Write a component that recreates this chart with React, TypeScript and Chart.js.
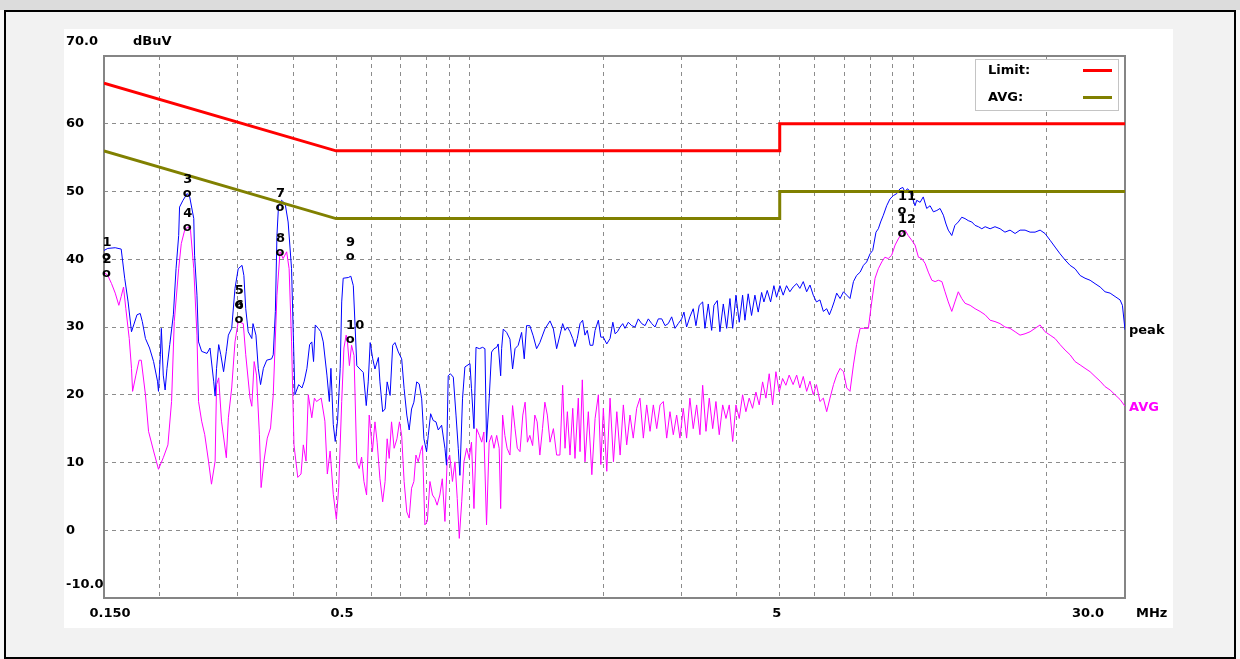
import { useEffect, useRef } from 'react';
import { Chart, registerables } from 'chart.js';

Chart.register(...registerables);

// ---------- data (MHz / dBuV) ----------
const peakFreq = [
  0.150, 0.153, 0.159, 0.164, 0.167, 0.170, 0.173, 0.175, 0.178, 0.181, 0.183, 0.186, 0.190, 0.194, 0.198, 0.199,
  0.201, 0.202, 0.204, 0.206, 0.208, 0.211, 0.215, 0.218, 0.221, 0.222, 0.226, 0.231, 0.234, 0.239, 0.240, 0.243,
  0.245, 0.249, 0.256, 0.260, 0.265, 0.267, 0.269, 0.272, 0.275, 0.279, 0.283, 0.286, 0.291, 0.296, 0.301, 0.307,
  0.310, 0.313, 0.317, 0.323, 0.325, 0.330, 0.334, 0.338, 0.343, 0.349, 0.358, 0.361, 0.365, 0.368, 0.371, 0.377,
  0.384, 0.390, 0.397, 0.401, 0.404, 0.412, 0.419, 0.424, 0.430, 0.436, 0.441, 0.445, 0.449, 0.456, 0.462, 0.468,
  0.477, 0.483, 0.487, 0.493, 0.498, 0.504, 0.511, 0.515, 0.519,
  0.533, 0.540, 0.547, 0.552, 0.557, 0.566, 0.576, 0.585, 0.591, 0.597, 0.605, 0.612, 0.623, 0.628, 0.637, 0.645,
  0.652, 0.662, 0.671, 0.679, 0.691, 0.703, 0.712, 0.722, 0.731, 0.740, 0.749, 0.760, 0.770, 0.780, 0.789, 0.800,
  0.807, 0.817, 0.828, 0.840, 0.850, 0.865, 0.880, 0.887, 0.895, 0.905, 0.919, 0.932, 0.943, 0.951, 0.964, 0.976,
  1.002, 1.010, 1.023, 1.034, 1.052, 1.070, 1.083, 1.092, 1.107, 1.121, 1.135, 1.151, 1.160, 1.175, 1.181, 1.191,
  1.212, 1.233, 1.250, 1.266, 1.287, 1.310, 1.328, 1.344, 1.367, 1.391, 1.416, 1.440, 1.478, 1.518, 1.545, 1.571,
  1.598, 1.621, 1.641, 1.661, 1.684, 1.708, 1.728, 1.749, 1.774, 1.798, 1.820, 1.842, 1.869, 1.896, 1.918, 1.951,
  1.976, 2.002, 2.038, 2.073, 2.103, 2.128, 2.154, 2.184, 2.214, 2.240, 2.279, 2.319, 2.360, 2.400, 2.443, 2.486,
  2.528, 2.574, 2.618, 2.663, 2.711, 2.757, 2.804, 2.854, 2.904, 2.953, 3.006, 3.042, 3.084, 3.137, 3.192, 3.237,
  3.293, 3.352, 3.392, 3.451, 3.512, 3.554, 3.616, 3.666, 3.731, 3.797, 3.862, 3.917, 3.984, 4.053, 4.124, 4.174,
  4.245, 4.320, 4.396, 4.472, 4.552, 4.606, 4.686, 4.769, 4.851, 4.919, 5.005, 5.091, 5.180,
  5.27, 5.36, 5.46, 5.55, 5.65, 5.75, 5.85, 5.95, 6.05, 6.16, 6.27, 6.38, 6.47, 6.55, 6.63, 6.72,
  6.84, 6.96, 7.08, 7.20, 7.33, 7.45, 7.59, 7.72, 7.85, 7.99, 8.10, 8.24, 8.34, 8.44, 8.56, 8.71,
  8.86, 9.02, 9.18, 9.33, 9.47, 9.58, 9.69, 9.83, 9.97, 10.09, 10.18, 10.36, 10.53, 10.72, 10.91, 11.10,
  11.30, 11.49, 11.69, 11.85, 11.99, 12.21, 12.41, 12.63, 12.86, 13.08, 13.30, 13.55, 13.78, 14.02, 14.27, 14.52,
  14.90, 15.28, 15.69, 16.09, 16.52, 16.96, 17.40, 17.86, 18.33, 18.81, 19.31, 19.81, 20.34, 20.87, 21.42, 21.98,
  22.56, 23.15, 23.77, 24.38, 25.03, 25.68, 26.37, 27.05, 27.77, 28.49, 29.24, 29.60, 30.0,
];
const peakLevel = [
  41.3, 41.6, 41.7, 41.5, 37.2, 33.7, 29.3, 30.3, 31.8, 32.0, 30.8, 28.3, 26.9, 24.9, 22.0, 20.5,
  25.9, 29.8, 22.9, 20.7, 23.9, 27.4, 31.8, 38.6, 43.5, 47.7, 48.7, 49.7, 49.2, 46.0, 40.6, 34.7,
  27.8, 26.4, 26.1, 26.9, 22.0, 19.8, 23.9, 27.4, 25.9, 23.4, 26.4, 28.8, 29.8, 35.7, 38.6, 39.1,
  37.6, 32.7, 29.3, 28.3, 30.5, 28.8, 23.9, 21.5, 23.9, 25.1, 25.3, 25.9, 32.3, 43.5, 47.9, 48.7,
  48.2, 45.5, 38.6, 27.8, 20.0, 21.5, 21.0, 22.0, 23.9, 27.4, 27.8, 24.9, 30.3, 29.8, 29.3, 27.8,
  22.9, 19.0, 23.9, 15.6, 13.1, 16.1, 23.9, 33.7, 37.2,
  37.3, 37.5, 36.1, 30.2, 24.3, 23.8, 23.3, 18.4, 21.9, 27.7, 25.3, 23.8, 25.5, 21.9, 17.5, 17.9,
  21.9, 19.9, 27.3, 27.7, 26.3, 25.3, 20.9, 17.0, 14.8, 17.9, 18.9, 21.9, 21.6, 19.4, 13.5, 11.6,
  14.0, 17.2, 16.2, 16.0, 14.8, 15.5, 12.1, 9.6, 22.8, 23.1, 22.6, 17.0, 12.1, 8.1, 19.4, 24.1,
  24.6, 20.9, 15.0, 27.0, 26.8, 27.0, 26.8, 13.0, 19.4, 26.3, 26.8, 27.0, 27.5, 22.8, 26.8, 29.7,
  29.2, 28.2, 23.8, 26.8, 27.3, 29.2, 25.3, 30.2, 30.2, 28.7, 26.8, 27.7, 29.7, 30.9, 29.7, 26.8,
  28.8, 30.5, 29.5, 30.0, 29.3, 28.3, 27.1, 28.3, 30.5, 31.0, 28.8, 29.5, 27.3, 27.3, 29.5, 31.0,
  28.5, 28.5, 27.5, 28.3, 30.7, 29.0, 29.3, 30.0, 30.5, 29.8, 30.7, 30.2, 30.0, 31.2, 30.5, 30.2,
  31.2, 30.5, 30.0, 31.2, 31.2, 30.2, 30.5, 31.5, 29.8, 30.5, 31.2, 32.2, 30.0, 31.5, 32.7, 30.2,
  33.2, 33.7, 29.8, 33.4, 29.5, 33.2, 33.9, 29.3, 33.4, 29.8, 34.2, 29.8, 34.7, 30.7, 34.7, 31.0,
  34.9, 31.7, 34.7, 32.2, 35.1, 33.7, 35.4, 33.7, 36.1, 34.4, 36.1, 34.7, 36.1,
  35.2, 35.9, 36.4, 35.7, 36.7, 35.2, 36.2, 34.7, 33.7, 34.0, 32.3, 32.7, 31.8, 32.7, 33.7, 35.0,
  34.2, 35.2, 34.7, 34.2, 36.7, 37.6, 38.1, 39.1, 39.6, 40.8, 41.3, 44.0, 44.5, 45.5, 46.5, 47.9,
  48.9, 49.4, 49.7, 50.4, 50.6, 49.9, 50.4, 50.1, 48.9, 47.9, 48.7, 48.4, 49.2, 47.5, 47.9, 47.0,
  47.2, 47.5, 46.5, 45.2, 44.3, 43.5, 45.0, 45.5, 46.2, 46.0, 45.7, 45.5, 45.0, 44.8, 44.5, 44.8,
  44.5, 44.8, 44.5, 44.0, 44.3, 43.8, 44.3, 44.3, 44.0, 44.0, 44.3, 43.8, 42.8, 41.8, 40.8, 39.9,
  39.1, 38.6, 37.6, 37.2, 36.9, 36.4, 35.9, 35.2, 35.0, 34.5, 34.0, 33.2, 29.6,
];

const avgFreq = [
  0.150, 0.153, 0.156, 0.159, 0.162, 0.164, 0.166, 0.168, 0.171, 0.173, 0.174, 0.177, 0.180, 0.182, 0.186, 0.189,
  0.194, 0.199, 0.204, 0.209, 0.213, 0.216, 0.221, 0.224, 0.228, 0.232, 0.235, 0.239, 0.243, 0.245, 0.249, 0.253,
  0.258, 0.262, 0.267, 0.269, 0.272, 0.276, 0.283, 0.286, 0.291, 0.296, 0.301, 0.309, 0.313, 0.320, 0.323, 0.327,
  0.331, 0.336, 0.339, 0.344, 0.350, 0.356, 0.361, 0.368, 0.374, 0.380, 0.387, 0.392, 0.397, 0.402, 0.410, 0.417,
  0.422, 0.428, 0.433, 0.441, 0.447, 0.452, 0.463, 0.472, 0.478, 0.485, 0.493, 0.501, 0.507, 0.515, 0.521, 0.527,
  0.530, 0.536, 0.542, 0.549, 0.557, 0.564, 0.571, 0.578, 0.586, 0.594, 0.598, 0.604, 0.612, 0.619, 0.628, 0.637,
  0.645, 0.652, 0.659, 0.667, 0.676, 0.686, 0.695, 0.703, 0.712, 0.722, 0.731, 0.740, 0.749, 0.757, 0.766, 0.775,
  0.783, 0.793, 0.803, 0.814, 0.825, 0.835, 0.845, 0.857, 0.868, 0.880, 0.890, 0.902, 0.915, 0.927, 0.938, 0.948,
  0.960, 0.971, 0.985, 0.998, 1.010, 1.023, 1.037, 1.052, 1.065, 1.077, 1.092, 1.107, 1.121, 1.135, 1.151, 1.166,
  1.175, 1.187, 1.201, 1.215, 1.233, 1.250, 1.266, 1.281, 1.299, 1.318, 1.334, 1.350, 1.367, 1.387, 1.403, 1.420,
  1.440, 1.460, 1.478, 1.497, 1.518, 1.545, 1.571,
  1.598, 1.621, 1.641, 1.661, 1.684, 1.708, 1.728, 1.758, 1.774, 1.795, 1.820, 1.852, 1.886, 1.918, 1.951, 1.976,
  2.002, 2.038, 2.073, 2.110, 2.147, 2.184, 2.221, 2.260, 2.299, 2.338, 2.380, 2.421, 2.464, 2.507, 2.551, 2.595,
  2.641, 2.687, 2.733, 2.781, 2.829, 2.878, 2.929, 2.979, 3.031, 3.084, 3.137, 3.192, 3.249, 3.305, 3.352, 3.410,
  3.469, 3.531, 3.591, 3.653, 3.719, 3.783, 3.848, 3.917, 3.984, 4.053, 4.124, 4.195, 4.267, 4.343, 4.419, 4.495,
  4.575, 4.654, 4.734, 4.819, 4.902, 4.987, 5.075, 5.162, 5.251,
  5.36, 5.46, 5.55, 5.65, 5.75, 5.85, 5.95, 6.05, 6.16, 6.27, 6.38, 6.49, 6.61, 6.72, 6.84, 6.96,
  7.08, 7.20, 7.33, 7.45, 7.59, 7.72, 7.92, 8.06, 8.20, 8.34, 8.49, 8.63, 8.78, 8.94, 9.10, 9.25,
  9.42, 9.58, 9.74, 9.92, 10.09, 10.27, 10.45, 10.63, 10.81, 11.01, 11.20, 11.39, 11.60, 11.79, 11.99, 12.21,
  12.41, 12.63, 12.86, 13.08, 13.43, 13.78, 14.14, 14.52, 14.90, 15.28, 15.69, 16.09, 16.52, 16.96, 17.40, 17.86,
  18.33, 18.81, 19.31, 19.81, 20.34, 20.87, 21.42, 21.98, 22.56, 23.15, 23.77, 24.38, 25.03, 25.68, 26.37, 27.05,
  27.77, 28.49, 29.24, 30.0,
];
const avgLevel = [
  38.1, 37.6, 36.4, 35.0, 33.2, 34.5, 35.9, 32.7, 28.3, 23.9, 20.5, 22.9, 25.1, 25.1, 20.0, 14.6,
  11.7, 9.0, 10.7, 12.6, 19.0, 30.8, 38.6, 42.3, 44.3, 44.8, 44.3, 38.6, 28.8, 19.0, 16.1, 14.1,
  10.2, 6.8, 10.2, 21.5, 22.5, 16.1, 10.7, 16.6, 21.0, 27.8, 30.8, 30.5, 25.9, 19.5, 18.3, 24.9,
  22.9, 14.1, 6.3, 10.2, 13.6, 15.1, 20.0, 34.7, 41.1, 40.1, 41.1, 38.6, 27.8, 12.6, 7.8, 8.3,
  12.6, 10.2, 20.0, 16.6, 19.5, 19.0, 19.5, 16.1, 8.3, 11.7, 5.3, 1.6, 6.3, 19.0, 26.9, 28.8,
  28.2, 24.3, 27.3, 25.8, 10.1, 9.1, 10.8, 7.2, 5.2, 17.0, 15.0, 11.6, 16.0, 13.0, 7.6, 4.2,
  7.2, 13.5, 10.6, 16.0, 12.1, 13.5, 16.0, 14.0, 7.2, 2.7, 1.8, 6.2, 7.2, 11.1, 10.1, 11.6,
  12.5, 0.8, 1.3, 7.2, 5.2, 4.7, 3.7, 5.2, 7.6, 1.3, 10.1, 11.1, 7.2, 10.1, 4.7, -1.2,
  4.2, 10.1, 12.1, 10.6, 13.0, 3.2, 15.0, 14.0, 13.0, 14.5, 0.8, 13.0, 14.0, 12.1, 14.0, 12.1,
  3.2, 17.0, 14.0, 12.1, 11.1, 18.4, 15.0, 12.1, 11.6, 17.0, 18.9, 13.0, 14.0, 12.5, 17.0, 16.0,
  11.1, 15.0, 18.9, 17.0, 13.0, 15.0, 11.1,
  11.1, 21.4, 12.1, 17.5, 11.1, 18.0, 10.6, 19.5, 11.6, 22.2, 10.1, 17.5, 8.2, 16.5, 20.0, 9.7,
  18.0, 8.7, 19.5, 10.1, 17.5, 11.1, 18.5, 12.6, 17.0, 13.6, 18.0, 19.5, 13.6, 18.5, 14.6, 18.5,
  15.0, 18.5, 19.0, 13.6, 17.5, 14.1, 17.0, 13.6, 18.0, 13.6, 19.5, 15.0, 18.5, 14.1, 21.4, 14.6,
  19.5, 15.0, 19.0, 14.1, 18.5, 16.5, 18.5, 13.1, 18.5, 16.5, 20.0, 17.5, 19.5, 18.0, 20.4, 18.5,
  21.9, 19.5, 23.1, 18.5, 23.4, 20.4, 22.4, 21.4, 22.9,
  21.5, 22.9, 21.0, 22.7, 20.5, 22.0, 20.0, 21.5, 19.0, 19.5, 17.5, 19.5, 21.5, 22.9, 23.9, 23.4,
  21.0, 20.5, 24.4, 27.4, 29.8, 29.8, 29.8, 33.7, 37.2, 38.6, 39.6, 40.3, 40.1, 40.6, 42.1, 43.0,
  43.8, 44.3, 43.5, 42.8, 42.1, 40.3, 40.1, 39.4, 38.1, 36.9, 36.7, 36.9, 36.7, 35.2, 33.7, 32.3,
  33.7, 35.2, 34.2, 33.5, 33.2, 32.7, 32.3, 31.8, 31.0, 30.8, 30.5, 30.0, 29.8, 29.3, 28.8, 29.0,
  29.3, 29.8, 30.3, 29.3, 28.8, 28.3, 27.4, 26.6, 25.9, 24.9, 24.4, 23.9, 23.4, 22.7, 22.0, 21.2,
  20.7, 20.0, 19.3, 18.3,
];

const limitFreq = [0.15, 0.5, 5, 5, 30];
const limitQp = [66, 56, 56, 60, 60];
const limitAvg = [56, 46, 46, 50, 50];

const markerNo = ['1', '2', '3', '4', '5', '6', '7', '8', '9', '10', '11', '12'];
const markerFreq = [0.152, 0.152, 0.231, 0.231, 0.302, 0.302, 0.374, 0.374, 0.538, 0.538, 9.43, 9.43];
const markerLevel = [40.2, 37.7, 49.5, 44.5, 33.2, 31.0, 47.4, 40.9, 40.3, 28.0, 47.0, 43.6];

const gridFreqs = [0.15, 0.2, 0.3, 0.4, 0.5, 0.6, 0.7, 0.8, 0.9, 1, 2, 3, 4, 5, 6, 7, 8, 9, 10, 20, 30];
const xLabelFreqs = [0.15, 0.5, 5, 30];
const xLabelText = ['0.150', '0.5', '5', '30.0'];
const yLabelValues = [70, 60, 50, 40, 30, 20, 10, 0, -10];
const yLabelText = ['70.0', '60', '50', '40', '30', '20', '10', '0', '-10.0'];
const legendText = ['Limit:', 'AVG:'];

const FONT = 'bold 13px "DejaVu Sans", "Liberation Sans", Arial, sans-serif';
const RED = '#ff0000';
const OLIVE = '#808000';
const BLUE = '#0000ff';
const MAGENTA = '#ff00ff';

const pts = (xs: number[], ys: number[]) => xs.map((x, i) => ({ x, y: ys[i] }));

const decor = {
  id: 'decor',
  beforeDatasetsDraw(chart: any) {
    const { ctx, chartArea: a } = chart;
    ctx.save();
    ctx.strokeStyle = '#858585';
    ctx.lineWidth = 2;
    ctx.strokeRect(a.left, a.top, a.right - a.left, a.bottom - a.top);
    ctx.restore();
  },
  afterDatasetsDraw(chart: any) {
    const { ctx, chartArea: a, scales } = chart;
    const xs = scales.x;
    const ys = scales.y;
    ctx.save();
    ctx.font = FONT;
    ctx.fillStyle = '#000';

    // markers
    markerNo.forEach((n, i) => {
      const px = xs.getPixelForValue(markerFreq[i]);
      const py = ys.getPixelForValue(markerLevel[i]);
      ctx.textAlign = 'center';
      ctx.textBaseline = 'middle';
      ctx.fillText('o', px, py - 1);
      ctx.textAlign = 'left';
      ctx.fillText(n, px - 4, py - 15);
    });

    // y labels
    ctx.textAlign = 'left';
    ctx.textBaseline = 'middle';
    yLabelValues.forEach((v, i) => {
      let py = ys.getPixelForValue(v);
      if (v === ys.max) py -= 14;
      if (v === ys.min) py -= 13;
      ctx.fillText(yLabelText[i], a.left - 38, py);
    });
    ctx.fillText('dBuV', a.left + 29, ys.getPixelForValue(ys.max) - 14);

    // x labels
    const xShift = [6, 6, -3, -37];
    ctx.textAlign = 'center';
    xLabelFreqs.forEach((f, i) => {
      ctx.fillText(xLabelText[i], xs.getPixelForValue(f) + xShift[i], a.bottom + 15.5);
    });
    ctx.textAlign = 'left';
    ctx.fillText('MHz', a.right + 11, a.bottom + 15.5);

    // trace end labels
    ctx.fillStyle = '#000';
    ctx.fillText('peak', a.right + 4, ys.getPixelForValue(peakLevel[peakLevel.length - 1]) + 1);
    ctx.fillStyle = MAGENTA;
    ctx.fillText('AVG', a.right + 4, ys.getPixelForValue(avgLevel[avgLevel.length - 1]) + 1);

    // legend box
    const bx = a.right - 150;
    const by = a.top + 3;
    ctx.fillStyle = '#fff';
    ctx.fillRect(bx, by, 143, 51);
    ctx.strokeStyle = '#c4c4c4';
    ctx.lineWidth = 1;
    ctx.strokeRect(bx + 0.5, by + 0.5, 143, 51);
    const colors = [RED, OLIVE];
    legendText.forEach((t, i) => {
      const ly = by + 11.5 + i * 27;
      ctx.fillStyle = '#000';
      ctx.textAlign = 'left';
      ctx.fillText(t, bx + 13, ly);
      ctx.strokeStyle = colors[i];
      ctx.lineWidth = 3;
      ctx.beginPath();
      ctx.moveTo(bx + 108, ly);
      ctx.lineTo(bx + 137, ly);
      ctx.stroke();
    });
    ctx.restore();
  },
};

function EmiChart() {
  const ref = useRef<HTMLCanvasElement | null>(null);
  useEffect(() => {
    if (!ref.current) return;
    const chart = new Chart(ref.current, {
      type: 'line',
      data: {
        datasets: [
          { label: 'Limit', data: pts(limitFreq, limitQp), borderColor: RED, borderWidth: 3, pointRadius: 0, tension: 0, fill: false },
          { label: 'AVG limit', data: pts(limitFreq, limitAvg), borderColor: OLIVE, borderWidth: 3, pointRadius: 0, tension: 0, fill: false },
          { label: 'peak', data: pts(peakFreq, peakLevel), borderColor: BLUE, borderWidth: 1, pointRadius: 0, tension: 0, fill: false },
          { label: 'AVG', data: pts(avgFreq, avgLevel), borderColor: MAGENTA, borderWidth: 1, pointRadius: 0, tension: 0, fill: false },
        ],
      },
      options: {
        animation: false,
        responsive: false,
        events: [],
        layout: { padding: { left: 104, top: 56, right: 115, bottom: 61 } },
        plugins: { legend: { display: false }, tooltip: { enabled: false } },
        scales: {
          x: {
            type: 'logarithmic',
            min: 0.15,
            max: 30,
            ticks: { display: false },
            grid: { color: '#8c8c8c', lineWidth: 1, drawTicks: false },
            border: { display: false, dash: [4, 4] },
            afterBuildTicks: (axis: any) => {
              axis.ticks = gridFreqs.map((v) => ({ value: v }));
            },
          },
          y: {
            type: 'linear',
            min: -10,
            max: 70,
            ticks: { display: false, stepSize: 10 },
            grid: { color: '#8c8c8c', lineWidth: 1, drawTicks: false },
            border: { display: false, dash: [4, 4] },
          },
        },
      } as any,
      plugins: [decor],
    });
    return () => chart.destroy();
  }, []);
  return <canvas ref={ref} width={1240} height={659} style={{ position: 'absolute', left: 0, top: 0, width: 1240, height: 659 }} />;
}

export default function App() {
  return (
    <div style={{ position: 'absolute', left: 0, top: 0, width: 1240, height: 659, background: '#f7f7f7', overflow: 'hidden' }}>
      <div style={{ position: 'absolute', left: 0, top: 0, width: 1240, height: 10, background: '#dcdcdc' }} />
      <div style={{ position: 'absolute', left: 4, top: 10, width: 1232, height: 649, border: '2px solid #000', boxSizing: 'border-box', background: '#f2f2f2' }} />
      <div style={{ position: 'absolute', left: 64, top: 29, width: 1109, height: 599, background: '#ffffff' }} />
      <EmiChart />
    </div>
  );
}
